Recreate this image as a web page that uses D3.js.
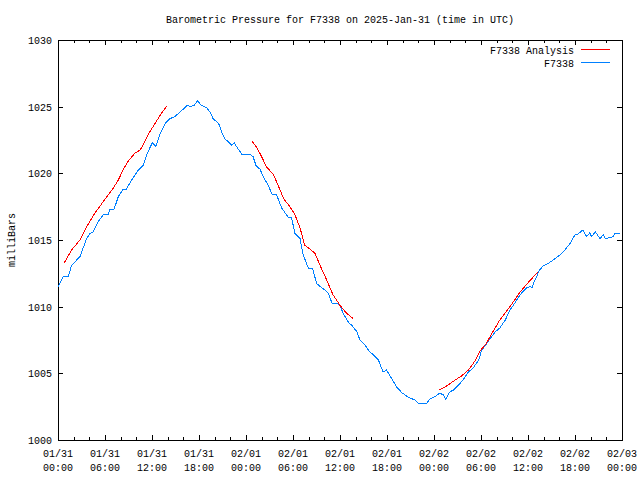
<!DOCTYPE html>
<html><head><meta charset="utf-8">
<script src="https://cdn.jsdelivr.net/npm/d3@7"></script>
<style>
html,body{margin:0;padding:0;background:#fff;}
text{font-family:"Liberation Mono","DejaVu Sans Mono",monospace;font-size:10px;fill:#000;}
</style></head>
<body>
<svg id="chart" width="640" height="480"></svg>
<script>
// ---- data (hours since 2025-01-31 00:00 UTC) ----
const obsHours = [0.0,0.68,1.3,1.74,2.8,3.66,4.1,4.5,5.15,5.8,6.4,6.6,7.15,7.7,8.3,8.7,9.4,10.25,10.9,11.4,12.04,12.5,13.0,13.7,14.3,14.9,15.6,16.5,16.85,17.4,17.8,18.3,19.0,19.4,19.8,20.5,20.9,21.3,22.2,22.5,22.8,23.45,24.5,24.9,25.3,25.8,26.2,26.85,27.3,27.9,28.55,29.4,29.8,30.25,30.9,31.3,31.95,32.5,33.0,33.7,34.1,34.5,35.0,35.6,36.0,36.4,37.1,37.5,37.9,38.1,38.55,39.2,39.8,40.25,40.9,41.5,41.95,42.6,43.2,43.9,44.7,45.6,46.0,47.1,47.4,48.1,48.7,49.2,49.5,50.0,50.5,51.1,51.7,52.4,53.0,53.7,54.1,54.7,55.15,55.8,56.4,57.1,57.7,58.3,59.0,59.8,60.3,60.5,60.8,61.1,61.45,61.95,62.6,63.45,64.1,64.7,65.4,66.0,66.4,67.0,67.5,67.9,68.1,68.6,69.2,69.6,69.9,70.9,71.1,71.7];
const obsValues = [1011.45,1012.25,1012.25,1013.1,1013.75,1015.1,1015.5,1015.6,1016.4,1016.9,1016.9,1017.3,1017.3,1018.25,1018.8,1018.8,1019.5,1020.25,1020.6,1021.5,1022.3,1022.0,1022.9,1023.75,1024.1,1024.25,1024.6,1025.1,1025.0,1025.1,1025.45,1025.1,1024.9,1024.6,1024.1,1023.75,1023.1,1022.6,1022.1,1022.3,1022.0,1021.45,1021.45,1021.25,1020.55,1020.3,1019.75,1019.1,1018.45,1018.4,1017.4,1016.7,1016.7,1015.5,1015.1,1013.9,1012.9,1012.9,1011.75,1011.4,1011.25,1011.0,1010.25,1010.25,1010.1,1009.5,1008.8,1008.6,1008.3,1008.2,1007.5,1007.1,1006.6,1006.4,1006.0,1005.1,1005.25,1004.6,1004.0,1003.55,1003.2,1003.0,1002.75,1002.75,1003.05,1003.25,1003.5,1003.4,1003.05,1003.6,1003.75,1004.1,1004.5,1005.1,1005.4,1006.0,1006.75,1007.2,1007.6,1008.1,1008.4,1009.0,1009.75,1010.25,1010.9,1011.4,1011.5,1011.4,1011.9,1012.25,1012.75,1013.05,1013.25,1013.6,1013.9,1014.25,1014.75,1015.4,1015.45,1015.75,1015.25,1015.55,1015.25,1015.6,1015.1,1015.4,1015.1,1015.25,1015.5,1015.5];

const analysis1Hours = [0.8,1.74,2.8,3.66,4.7,5.8,7.06,7.7,8.3,9.0,9.8,10.5,11.1,11.7,12.4,13.2,13.9];
const analysis1Values = [1013.3,1014.25,1015.0,1016.0,1017.0,1017.9,1018.9,1019.5,1020.25,1020.95,1021.5,1021.75,1022.4,1023.1,1023.75,1024.5,1025.05];
const analysis2Hours = [24.8,25.4,26.0,26.6,27.5,28.1,28.8,29.6,30.25,30.9,31.5,32.2,32.8,33.45,34.3,35.1,36.0,36.85,37.7];
const analysis2Values = [1022.4,1021.9,1021.25,1020.5,1019.9,1019.1,1018.1,1017.5,1016.9,1015.9,1014.6,1014.3,1014.0,1013.1,1012.0,1010.9,1010.1,1009.5,1009.1];
const analysis3Hours = [48.7,49.6,50.7,51.5,52.4,53.2,53.9,54.7,55.15,56.4,57.7,59.0,60.3,61.3];
const analysis3Values = [1003.75,1004.05,1004.5,1004.8,1005.25,1005.9,1006.7,1007.25,1007.75,1009.0,1010.0,1011.1,1012.0,1012.6];

const yTicks = [1000,1005,1010,1015,1020,1025,1030];
const seriesNames = ["F7338 Analysis","F7338"];
const seriesColors = ["#ff0000","#0080ff"];
const titleText = "Barometric Pressure for F7338 on 2025-Jan-31 (time in UTC)";
const yLabel = "milliBars";

// ---- layout ----
const svg = d3.select("#chart");
const L = 58, R = 622, T = 40, B = 440;
const t0 = Date.UTC(2025,0,31,0,0);
const toDate = h => new Date(t0 + h*3600e3);
const x = d3.scaleUtc().domain([toDate(0), toDate(72)]).range([L, R]);
const y = d3.scaleLinear().domain([1000,1030]).range([B, T]);

const majorTicks = d3.range(0,73,6).map(toDate);
const minorTicks = d3.range(0,73,2).filter(h => h%6!==0).map(toDate);

const g = svg.append("g").attr("shape-rendering","crispEdges");

// ticks (inward, mirrored)
const tickG = g.append("g").attr("stroke","#000").attr("stroke-width",1);
majorTicks.forEach(d=>{
  const xx = Math.round(x(d))+0.5;
  tickG.append("line").attr("x1",xx).attr("x2",xx).attr("y1",B).attr("y2",B-5);
  tickG.append("line").attr("x1",xx).attr("x2",xx).attr("y1",T).attr("y2",T+5);
});
minorTicks.forEach(d=>{
  const xx = Math.round(x(d))+0.5;
  tickG.append("line").attr("x1",xx).attr("x2",xx).attr("y1",B).attr("y2",B-3);
  tickG.append("line").attr("x1",xx).attr("x2",xx).attr("y1",T).attr("y2",T+3);
});
yTicks.forEach(v=>{
  const yy = Math.round(y(v))+0.5;
  tickG.append("line").attr("x1",L).attr("x2",L+5).attr("y1",yy).attr("y2",yy);
  tickG.append("line").attr("x1",R).attr("x2",R-5).attr("y1",yy).attr("y2",yy);
});

// border
g.append("rect").attr("x",L+0.5).attr("y",T+0.5).attr("width",R-L).attr("height",B-T)
  .attr("fill","none").attr("stroke","#000");

// tick labels
const fmtD = d3.utcFormat("%m/%d"), fmtT = d3.utcFormat("%H:%M");
majorTicks.forEach(d=>{
  svg.append("text").attr("x",x(d)).attr("y",457).attr("text-anchor","middle").text(fmtD(d));
  svg.append("text").attr("x",x(d)).attr("y",471).attr("text-anchor","middle").text(fmtT(d));
});
yTicks.forEach(v=>{
  svg.append("text").attr("x",52).attr("y",y(v)+4).attr("text-anchor","end").text(v);
});

// title and y label
svg.append("text").attr("x",340).attr("y",23).attr("text-anchor","middle").text(titleText);
svg.append("text").attr("transform","translate(15,240) rotate(-90)").attr("text-anchor","middle").text(yLabel);

// lines
const line = d3.line().x(d=>x(toDate(d[0]))).y(d=>y(d[1]));
const zip = (a,b) => a.map((h,i)=>[h,b[i]]);
const lg = svg.append("g").attr("fill","none").attr("stroke-width",1).attr("shape-rendering","crispEdges");
lg.append("path").attr("d", line(zip(obsHours,obsValues))).attr("stroke",seriesColors[1]);
[[analysis1Hours,analysis1Values],[analysis2Hours,analysis2Values],[analysis3Hours,analysis3Values]].forEach(([h,v])=>{
  lg.append("path").attr("d", line(zip(h,v))).attr("stroke",seriesColors[0]);
});

// legend
seriesNames.forEach((name,i)=>{
  const yy = 50 + i*13;
  svg.append("text").attr("x",574).attr("y",yy+4).attr("text-anchor","end").text(name);
  svg.append("line").attr("x1",581).attr("x2",610).attr("y1",yy-0.5).attr("y2",yy-0.5)
    .attr("stroke",seriesColors[i]).attr("shape-rendering","crispEdges");
});
</script>
</body></html>
